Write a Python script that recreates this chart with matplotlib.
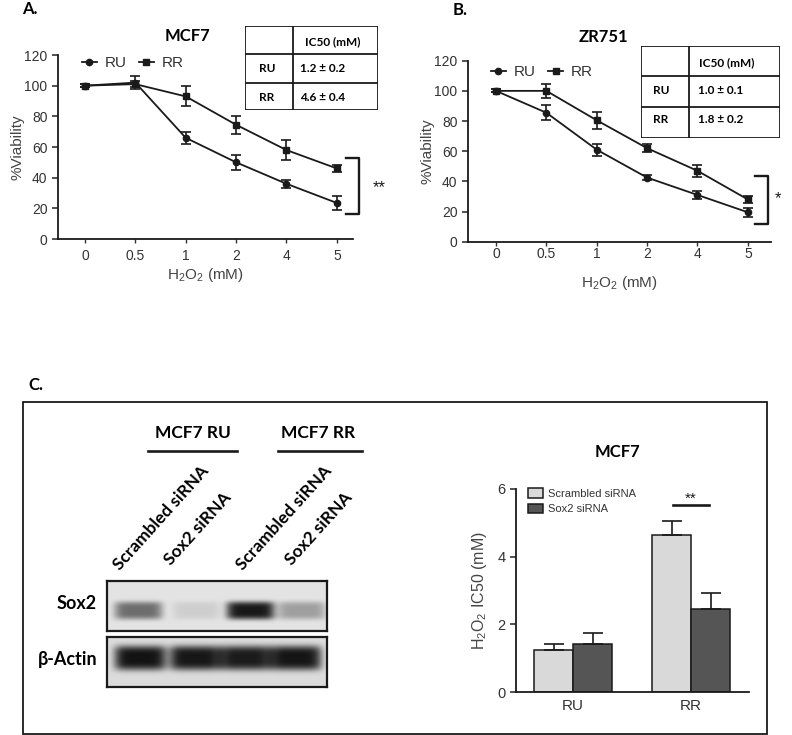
import numpy as np
import matplotlib
matplotlib.use("Agg")
import matplotlib.pyplot as plt
from matplotlib.lines import Line2D
from matplotlib.patches import Rectangle

plt.rcParams['font.family'] = ['Liberation Sans', 'DejaVu Sans']
plt.rcParams['mathtext.default'] = 'regular'

W, H = 792, 735

# ---- data ----
doses = ["0", "0.5", "1", "2", "4", "5"]

# panel A, MCF7
mcf7_ru = [100, 102, 66, 50, 36, 23.5]
mcf7_ru_err = [1, 4, 4, 5, 2.5, 4.5]
mcf7_rr = [100, 101, 93, 74.5, 58, 46]
mcf7_rr_err = [1, 2, 6.5, 6, 6.5, 2.5]
mcf7_ic50 = [["RU", "1.2 ± 0.2"], ["RR", "4.6 ± 0.4"]]

# panel B, ZR751
zr_ru = [100, 85.5, 61, 42.5, 31, 19.5]
zr_ru_err = [1, 5, 4, 1.5, 2.5, 3]
zr_rr = [100, 100, 80.5, 62, 47, 28]
zr_rr_err = [1, 4.5, 5.5, 2.5, 4, 2.5]
zr_ic50 = [["RU", "1.0 ± 0.1"], ["RR", "1.8 ± 0.2"]]

# panel C, siRNA IC50 bars
cell_groups = ["RU", "RR"]
scrambled = [1.23, 4.65]
scrambled_err = [0.19, 0.40]
sox2 = [1.43, 2.44]
sox2_err = [0.30, 0.50]

# western blot lanes and band strength (0..1)
lanes = ["Scrambled siRNA", "Sox2 siRNA", "Scrambled siRNA", "Sox2 siRNA"]
blot_groups = ["MCF7 RU", "MCF7 RR"]
sox2_band = [0.55, 0.1, 0.95, 0.32]
actin_band = [0.97, 0.95, 0.93, 0.96]


def box(l, t, r, b):
    return [l / W, 1 - b / H, (r - l) / W, (b - t) / H]


fig = plt.figure(figsize=(W / 100, H / 100), dpi=100)
bold = dict(family='Lato', weight='bold')
ink = '#1a1a1a'


def viability(ax, ru, ru_err, rr, rr_err, xl_pad, lab_pad):
    x = np.arange(len(doses))
    ax.errorbar(x, ru, yerr=ru_err, color=ink, marker='o', ms=4.5, lw=1.3,
                capsize=3.8, elinewidth=1.2, capthick=1.2, label='RU')
    ax.errorbar(x, rr, yerr=rr_err, color=ink, marker='s', ms=4.5, lw=1.3,
                capsize=3.8, elinewidth=1.2, capthick=1.2, label='RR')
    ax.set_ylim(0, 120)
    ax.set_yticks(range(0, 121, 20))
    ax.set_xticks(x)
    ax.set_xticklabels(doses)
    for s in ['top', 'right']:
        ax.spines[s].set_visible(False)
    for s in ['left', 'bottom']:
        ax.spines[s].set_linewidth(1.3)
        ax.spines[s].set_color(ink)
    ax.tick_params(axis='y', length=4, width=1.2, labelsize=10, colors='#333333')
    ax.tick_params(axis='x', length=3, width=1, labelsize=10, colors='#333333', pad=lab_pad)
    ax.set_ylabel('%Viability', fontsize=11, color='#444444', labelpad=0)
    ax.set_xlabel('H$_2$O$_2$ (mM)', fontsize=11, color='#444444', labelpad=xl_pad)


h = [Line2D([], [], color=ink, marker='o', ms=4.5, lw=1.3),
     Line2D([], [], color=ink, marker='s', ms=4.5, lw=1.3)]

# ---- panel A ----
axA = fig.add_axes(box(58, 55, 353, 239))
viability(axA, mcf7_ru, mcf7_ru_err, mcf7_rr, mcf7_rr_err, 2.5, 4)
axA.set_xlim(-0.535, 5.32)
axA.legend(h, ['RU', 'RR'], ncol=2, loc='center left', bbox_to_anchor=(0.08, 0.957),
           frameon=False, fontsize=11, handlelength=1.0, handletextpad=0.5,
           columnspacing=0.8, borderpad=0, borderaxespad=0, labelcolor='#333333')
axA.plot([5.18, 5.44, 5.44, 5.18], [52.8, 52.8, 16.3, 16.3], color=ink, lw=1.7, clip_on=False)
axA.text(5.85, 33.5, '**', fontsize=12, ha='center', va='center', color=ink)
fig.text(187 / W, 1 - 36 / H, 'MCF7', ha='center', va='center', fontsize=12, **bold)
fig.text(22 / W, 1 - 9 / H, 'A.', ha='left', va='center', fontsize=12, **bold)

# ---- panel B ----
axB = fig.add_axes(box(468, 60.7, 771, 241.7))
viability(axB, zr_ru, zr_ru_err, zr_rr, zr_rr_err, 9, 1)
axB.set_xlim(-0.556, 5.46)
axB.legend(h, ['RU', 'RR'], ncol=2, loc='center left', bbox_to_anchor=(0.075, 0.938),
           frameon=False, fontsize=11, handlelength=1.0, handletextpad=0.5,
           columnspacing=0.8, borderpad=0, borderaxespad=0, labelcolor='#333333')
axB.plot([5.14, 5.40, 5.40, 5.14], [43.6, 43.6, 11.7, 11.7], color=ink, lw=1.7, clip_on=False)
axB.text(5.60, 28.5, '*', fontsize=12, ha='center', va='center', color=ink)
fig.text(603 / W, 1 - 37 / H, 'ZR751', ha='center', va='center', fontsize=12, **bold)
fig.text(453 / W, 1 - 10 / H, 'B.', ha='left', va='center', fontsize=12, **bold)


def ic50_table(rect, rows, col, r1, r2, hx, lx, vx, ys):
    t = fig.add_axes(rect)
    t.set_xlim(0, 1)
    t.set_ylim(1, 0)
    t.axis('off')
    t.add_patch(Rectangle((0, 0), 1, 1, facecolor='white', edgecolor=ink, lw=1.3))
    t.plot([col, col], [0, 1], color=ink, lw=1.3)
    t.plot([0, 1], [r1, r1], color=ink, lw=1.3)
    t.plot([0, 1], [r2, r2], color=ink, lw=1.3)
    t.text(hx, ys[0], 'IC50 (mM)', ha='left', va='center', fontsize=8.5, **bold)
    for (lab, val), y in zip(rows, ys[1:]):
        t.text(lx, y, lab, ha='left', va='center', fontsize=8.5, **bold)
        t.text(vx, y, val, ha='left', va='center', fontsize=8.5, **bold)


ic50_table(box(245, 26, 378, 110), mcf7_ic50, 0.361, 0.333, 0.679, 0.451, 0.105, 0.414,
           [0.19, 0.51, 0.857])
ic50_table(box(641, 46, 780, 138), zr_ic50, 0.345, 0.326, 0.663, 0.417, 0.086, 0.408,
           [0.185, 0.486, 0.804])

# ---- panel C ----
fig.text(28 / W, 1 - 385 / H, 'C.', ha='left', va='center', fontsize=12, **bold)
fig.add_artist(Rectangle((22.7 / W, 1 - 734 / H), (767 - 22.7) / W, (734 - 402) / H,
                         transform=fig.transFigure, fill=False, edgecolor=ink, lw=1.3))


def blot(rect, strength, centers, halfw, cy, halfh, bg, label):
    ax = fig.add_axes(rect)
    xs = np.arange(220)[None, :]
    ys = np.arange(50)[:, None]
    dark = np.zeros((50, 220))
    for s, c in zip(strength, centers):
        dark += s * np.exp(-((xs - c) / halfw) ** 6) * np.exp(-((ys - cy) / halfh) ** 4)
    img = bg - np.clip(dark, 0, 1) * (bg - 0.05)
    ax.imshow(img, cmap='gray', vmin=0, vmax=1, aspect='auto', interpolation='bilinear')
    ax.set_xticks([])
    ax.set_yticks([])
    for s in ax.spines.values():
        s.set_linewidth(1.6)
        s.set_color(ink)
    ax.text(-0.045, 0.55, label, transform=ax.transAxes, ha='right', va='center',
            fontsize=13, **bold)


blot(box(107, 581, 327, 631), sox2_band, [31, 89, 143, 194], 24, 29, 9, 0.89, 'Sox2')
blot(box(107, 637, 327, 687), actin_band, [33, 88, 138, 188], 26, 21, 12, 0.86, 'β-Actin')

for lab, (x0, y0) in zip(lanes, [(122, 573), (173, 568), (245, 573), (294, 568)]):
    fig.text(x0 / W, 1 - y0 / H, lab, rotation=48, rotation_mode='anchor',
             ha='left', va='bottom', fontsize=12.5, **bold)
for lab, xc, (l, r) in zip(blot_groups, [193, 318], [(148, 237), (278, 362)]):
    fig.text(xc / W, 1 - 433 / H, lab, ha='center', va='center', fontsize=12.5, **bold)
    fig.add_artist(Line2D([l / W, r / W], [1 - 451 / H, 1 - 451 / H], color=ink, lw=1.9))

# IC50 bar chart
axC = fig.add_axes(box(515.7, 489, 749, 692))
gx = np.arange(len(cell_groups))
bw = 0.33
axC.bar(gx - bw / 2, scrambled, bw, color='#d9d9d9', edgecolor=ink, lw=1.1,
        label='Scrambled siRNA')
axC.bar(gx + bw / 2, sox2, bw, color='#555555', edgecolor=ink, lw=1.1, label='Sox2 siRNA')
axC.errorbar(gx - bw / 2, scrambled, yerr=[np.zeros(2), scrambled_err], fmt='none',
             ecolor=ink, elinewidth=1.2, capsize=7.5, capthick=1.2)
axC.errorbar(gx + bw / 2, sox2, yerr=[np.zeros(2), sox2_err], fmt='none',
             ecolor=ink, elinewidth=1.2, capsize=7.5, capthick=1.2)
axC.set_xlim(-0.486, 1.49)
axC.set_ylim(0, 6)
axC.set_yticks([0, 2, 4, 6])
axC.set_xticks(gx)
axC.set_xticklabels(cell_groups)
for s in ['top', 'right']:
    axC.spines[s].set_visible(False)
for s in ['left', 'bottom']:
    axC.spines[s].set_linewidth(1.3)
    axC.spines[s].set_color(ink)
axC.tick_params(axis='y', length=4, width=1.2, labelsize=10.5, colors='#333333')
axC.tick_params(axis='x', length=0, labelsize=11, colors='#333333', pad=5)
axC.set_ylabel('H$_2$O$_2$ IC50 (mM)', fontsize=11.5, color='#444444', labelpad=6)
axC.legend(loc='upper left', bbox_to_anchor=(0.03, 1.03), frameon=False, fontsize=8,
           handlelength=1.3, handleheight=0.9, handletextpad=0.5, labelspacing=0.45,
           borderpad=0, labelcolor='#333333')
axC.plot([0.847, 1.153], [5.52, 5.52], color=ink, lw=1.9)
axC.text(1.0, 5.70, '**', fontsize=11, ha='center', va='center', color=ink)
fig.text(617 / W, 1 - 452 / H, 'MCF7', ha='center', va='center', fontsize=12, **bold)

fig.savefig('out.png', dpi=100, facecolor='white')
